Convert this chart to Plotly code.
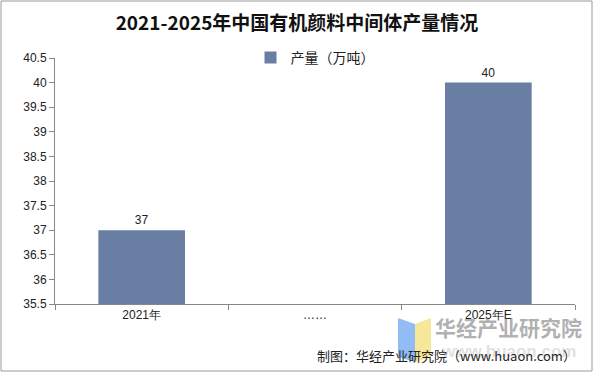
import plotly.graph_objects as go

title = "2021-2025年中国有机颜料中间体产量情况"
series_name = "产量（万吨）"
categories = ["2021年", "……", "2025年E"]
values = [37, None, 40]
source_text = "制图：华经产业研究院（www.huaon.com）"
y_ticks = [35.5, 36, 36.5, 37, 37.5, 38, 38.5, 39, 39.5, 40, 40.5]

W, H = 594, 373
L, R, T, B = 55, 19, 58, 69
PW, PH = W - L - R, H - T - B


def px(x):
    return (x - L) / PW


def py(y):
    return 1 - (y - T) / PH


fig = go.Figure()
fig.add_trace(go.Bar(
    x=categories, y=values, name=series_name,
    marker=dict(color="#687ea3", line=dict(width=0)),
    width=0.5,
    text=[("" if v is None else f"{v:g}") for v in values],
    textposition="outside",
    textfont=dict(family="Arial, Liberation Sans", size=12, color="#222"),
    cliponaxis=False,
))

fig.update_layout(
    width=W, height=H,
    margin=dict(l=L, r=R, t=T, b=B, autoexpand=False),
    paper_bgcolor="white", plot_bgcolor="white",
    title=dict(text=title, x=0.5, xanchor="center", y=1 - 23 / H, yanchor="middle",
               font=dict(family="Noto Sans CJK SC", size=19, color="#111", weight="bold")),
    showlegend=True,
    legend=dict(orientation="h", x=0.5, xanchor="center", y=1.0, yanchor="middle",
                font=dict(family="Noto Sans CJK SC", size=14, color="#222"),
                bgcolor="rgba(0,0,0,0)", itemwidth=30),
    font=dict(family="Arial, Liberation Sans", size=12, color="#333"),
)
fig.update_yaxes(range=[35.5, 40.5], tickvals=y_ticks, ticktext=[f"{t:g}" for t in y_ticks],
                 automargin=False,
                 showgrid=False, zeroline=False, showline=True, linecolor="#888", linewidth=1,
                 ticks="outside", ticklen=5, tickcolor="#888",
                 tickfont=dict(family="Arial, Liberation Sans", size=12, color="#222"))
fig.update_xaxes(type="category", automargin=False,
                 showgrid=False, showline=True, linecolor="#888", linewidth=1,
                 ticks="outside", ticklen=5, tickcolor="#888", tickson="boundaries",
                 tickfont=dict(family="Arial, Liberation Sans", size=12, color="#222"))

# watermark logo
fig.add_shape(type="path", xref="paper", yref="paper",
              path="M {} {} L {} {} L {} {} L {} {} Z".format(
                  px(398), py(318), px(415), py(324), px(415), py(362), px(398), py(357)),
              fillcolor="rgba(110,165,240,0.75)", line=dict(width=0), layer="above")
fig.add_shape(type="path", xref="paper", yref="paper",
              path="M {} {} L {} {} L {} {} L {} {} Z".format(
                  px(415), py(324), px(431), py(318), px(431), py(357), px(415), py(362)),
              fillcolor="rgba(245,225,130,0.8)", line=dict(width=0), layer="above")
fig.add_annotation(text="华经产业研究院", xref="paper", yref="paper",
                   x=px(508), xanchor="center", y=py(327), yanchor="middle", showarrow=False,
                   font=dict(family="Noto Sans CJK SC", size=21, color="rgba(110,110,110,0.55)", weight="bold"))
fig.add_annotation(text="www.huaon.com", xref="paper", yref="paper",
                   x=px(508), xanchor="center", y=py(351), yanchor="middle", showarrow=False,
                   font=dict(family="Arial, Liberation Sans", size=17, color="rgba(150,150,150,0.3)", weight="bold"))
fig.add_annotation(text=source_text, xref="paper", yref="paper",
                   x=px(578), xanchor="right", y=py(355), yanchor="middle", showarrow=False,
                   font=dict(family="Noto Sans CJK SC", size=13, color="#222"))
# outer border
fig.add_shape(type="rect", xref="paper", yref="paper",
              x0=px(1), x1=px(592), y0=py(371), y1=py(1),
              line=dict(color="#999", width=1), fillcolor="rgba(0,0,0,0)")

fig.write_html("out.html", config={"displayModeBar": False},
               post_script="document.body.style.margin='0';")
